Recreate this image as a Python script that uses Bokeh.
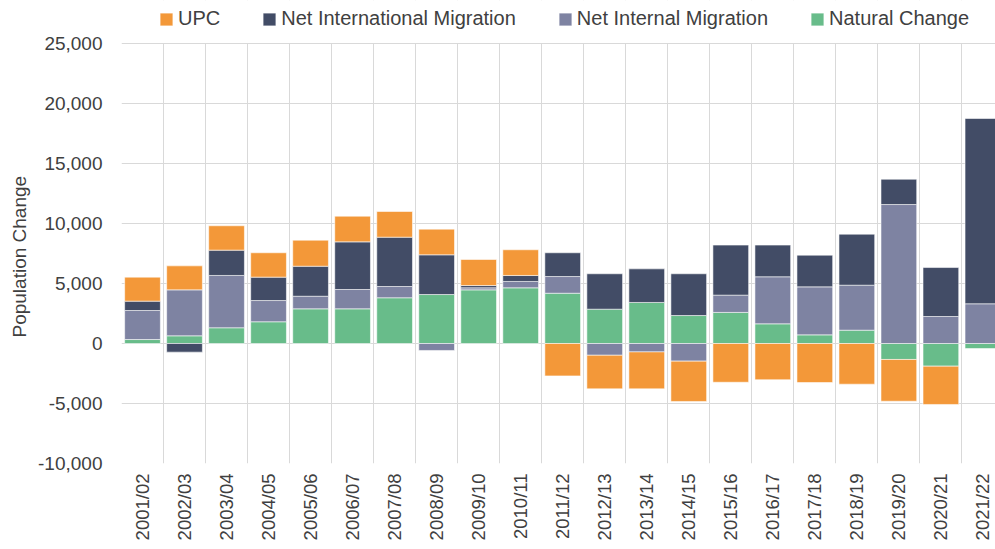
import numpy as np
from bokeh.plotting import figure
from bokeh.models import (ColumnDataSource, Range1d, FixedTicker, NumeralTickFormatter,
                          Legend, LegendItem, BoxAnnotation, Title)
from bokeh.embed import file_html
from bokeh.resources import INLINE

# ---- data ----
categories = ["2001/02", "2002/03", "2003/04", "2004/05", "2005/06", "2006/07", "2007/08",
              "2008/09", "2009/10", "2010/11", "2011/12", "2012/13", "2013/14", "2014/15",
              "2015/16", "2016/17", "2017/18", "2018/19", "2019/20", "2020/21", "2021/22"]
natural_change = [330, 640, 1310, 1810, 2890, 2890, 3810, 4080, 4470, 4640, 4190, 2860, 3420,
                  2330, 2590, 1640, 720, 1110, -1330, -1890, -420]
net_internal = [2420, 3830, 4360, 1770, 1050, 1610, 940, -580, 170, 530, 1390, -980, -700,
                -1470, 1440, 3920, 4000, 3750, 11580, 2250, 3310]
net_international = [780, -720, 2110, 1950, 2500, 3970, 4110, 3310, 190, 500, 1980, 2950, 2800,
                     3480, 4170, 2640, 2640, 4250, 2110, 4080, 15440]
upc = [2000, 2000, 2030, 2030, 2170, 2140, 2140, 2140, 2170, 2140, -2700, -2800, -3080, -3360,
       -3230, -3020, -3250, -3390, -3480, -3190, 0]

series_names = ["Natural Change", "Net Internal Migration", "Net International Migration", "UPC"]
series_values = [natural_change, net_internal, net_international, upc]
series_colors = ["#68BC8A", "#7E83A2", "#424C66", "#F39839"]
y_ticks = [-10000, -5000, 0, 5000, 10000, 15000, 20000, 25000]

FONT = "Liberation Sans"
TEXT = "#404040"
GRID = "#D9D9D9"

n = len(categories)
centers = [i + 0.5 for i in range(n)]

# frame spans the legend strip too (43 px above the top gridline, 12 px per 1,000)
y_top = y_ticks[-1] + 43 * 1000 / 12

p = figure(width=995, height=549, output_backend="svg", toolbar_location=None,
           x_range=Range1d(0, 20.8), y_range=Range1d(y_ticks[0], y_top),
           min_border_left=121, min_border_right=0, min_border_top=0, min_border_bottom=86)
p.outline_line_color = None
p.background_fill_color = "white"
p.border_fill_color = "white"

pos_base = np.zeros(n)
neg_base = np.zeros(n)
renderers = {}
for name, vals, col in zip(series_names, series_values, series_colors):
    v = np.array(vals, dtype=float)
    bottom = np.where(v >= 0, pos_base, neg_base)
    top = bottom + v
    pos_base = np.where(v >= 0, pos_base + v, pos_base)
    neg_base = np.where(v < 0, neg_base + v, neg_base)
    mask = v != 0
    src = ColumnDataSource(dict(x=np.array(centers)[mask], top=top[mask], bottom=bottom[mask]))
    r = p.vbar(x="x", top="top", bottom="bottom", width=0.85, source=src,
               fill_color=col, line_color="white", line_alpha=0.55, line_width=1)
    renderers[name] = r

# grids
p.xgrid.ticker = FixedTicker(ticks=list(range(0, n + 1)))
p.ygrid.ticker = FixedTicker(ticks=y_ticks)
for g in (p.xgrid, p.ygrid):
    g.grid_line_color = GRID
    g.grid_line_width = 1

# hide the vertical gridlines above the top gridline (legend strip)
p.add_layout(BoxAnnotation(bottom=y_ticks[-1] + 40, fill_color="white", fill_alpha=1,
                           line_color=None, level="underlay"))

# x axis
p.xaxis.ticker = FixedTicker(ticks=centers)
p.xaxis.major_label_overrides = {c: lab for c, lab in zip(centers, categories)}
p.xaxis.major_label_orientation = np.pi / 2
p.xaxis.axis_line_color = None
p.xaxis.major_tick_line_color = None
p.xaxis.minor_tick_line_color = None
p.xaxis.major_tick_out = 0
p.xaxis.major_label_standoff = 10
p.xaxis.major_label_text_font = FONT
p.xaxis.major_label_text_font_size = "18.5px"
p.xaxis.major_label_text_color = TEXT

# y axis
p.yaxis.ticker = FixedTicker(ticks=y_ticks)
p.yaxis.formatter = NumeralTickFormatter(format="0,0")
p.yaxis.axis_line_color = None
p.yaxis.major_tick_line_color = None
p.yaxis.minor_tick_line_color = None
p.yaxis.major_tick_out = 0
p.yaxis.major_label_standoff = 19
p.yaxis.major_label_text_font = FONT
p.yaxis.major_label_text_font_size = "19px"
p.yaxis.major_label_text_color = TEXT

ytitle = Title(text="Population Change", align="left", offset=126, standoff=12,
               text_font=FONT, text_font_size="19px", text_font_style="normal",
               text_color=TEXT)
p.add_layout(ytitle, "left")

legend_order = ["UPC", "Net International Migration", "Net Internal Migration", "Natural Change"]
legend = Legend(items=[LegendItem(label=nm, renderers=[renderers[nm]]) for nm in legend_order],
                orientation="horizontal", location=(37, 433),
                glyph_width=16, glyph_height=16, label_standoff=4, spacing=41,
                padding=0, margin=0, label_height=20,
                label_text_font=FONT, label_text_font_size="20px", label_text_color=TEXT,
                border_line_color=None, background_fill_alpha=0)
p.add_layout(legend, "center")

open("out.html", "w").write(file_html(p, INLINE))
